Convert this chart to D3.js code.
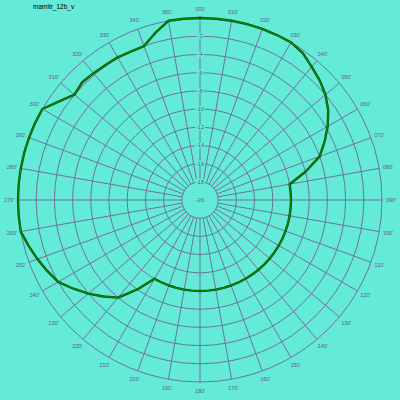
<!DOCTYPE html>
<html>
<head>
<meta charset="utf-8">
<script src="https://cdn.jsdelivr.net/npm/d3@7"></script>
<style>
  body { margin: 0; background: #64ebd8; }
  svg { display: block; }
</style>
</head>
<body>
<div id="chart"></div>
<script>
// pattern, every 5 degrees: azimuth (deg) -> level (dB)
const azimuths = [0, 5, 10, 15, 20, 25, 30, 35, 40, 45, 50, 55, 60, 65, 70, 75, 80, 85,
                  90, 95, 100, 105, 110, 115, 120, 125, 130, 135, 140, 145, 150, 155, 160, 165, 170, 175,
                  180, 185, 190, 195, 200, 205, 210, 215, 220, 225, 230, 235, 240, 245, 250, 255, 260, 265,
                  270, 275, 280, 285, 290, 295, 300, 305, 310, 315, 320, 325, 330, 335, 340, 345, 350, 355];
const levels = [0, 0, 0, 0, 0, 0, 0, -0.3, -0.9, -1.4, -2, -2.8, -3.8, -4.9, -6, -8, -10, -10,
                -10, -10, -10, -10, -10, -10, -10, -10, -10, -10, -10, -10, -10, -10, -10, -10, -10, -10,
                -10, -10, -10, -10, -10, -10, -10, -8, -6, -5, -4, -3, -2, -1.5, -1, -0.5, 0, 0,
                0, 0, 0, 0, 0, 0, 0, -1.1, -2, -1.7, -1.8, -1.9, -1.9, -2, -2, -1, 0, 0];

const ringValues = [-18, -16, -14, -12, -10, -8, -6, -4, -2, 0];
const ringLabels = ["-18", "-16", "-14", "-12", "-10", "-8", "-6", "-4", "-2", "0"];
const spokeAngles = d3.range(0, 360, 10);
const angleLabels = spokeAngles.map(a => a === 0 ? "000" : d3.format("03d")(a) + "'");
const title = "mamitr_12b_v";

const width = 400, height = 400;
const cx = 200, cy = 200, outer = 182;
const bg = "#64ebd8";

const svg = d3.select("#chart").append("svg")
    .attr("width", width)
    .attr("height", height);

svg.append("rect")
    .attr("width", width)
    .attr("height", height)
    .attr("fill", bg);

const g = svg.append("g")
    .attr("transform", "translate(" + cx + "," + cy + ")");

const rScale = d3.scaleLinear()
    .domain([-20, 0])
    .range([0, outer]);

const toRad = a => a * Math.PI / 180;
const gridColor = "#6e729c";
const textColor = "#5c5f84";

// rings
g.selectAll("circle.ring")
    .data(ringValues)
    .enter().append("circle")
    .attr("class", "ring")
    .attr("r", d => rScale(d))
    .attr("fill", "none")
    .attr("stroke", gridColor)
    .attr("stroke-width", 1);

// spokes, from the inner ring out to the rim
g.selectAll("line.spoke")
    .data(spokeAngles)
    .enter().append("line")
    .attr("class", "spoke")
    .attr("x1", d => rScale(-18) * Math.sin(toRad(d)))
    .attr("y1", d => -rScale(-18) * Math.cos(toRad(d)))
    .attr("x2", d => outer * Math.sin(toRad(d)))
    .attr("y2", d => -outer * Math.cos(toRad(d)))
    .attr("stroke", gridColor)
    .attr("stroke-width", 1);

// ring labels on the north spoke, with a small background box
const ringLab = g.selectAll("g.ringlab")
    .data(ringValues.map((v, i) => ({v: v, t: ringLabels[i]})).concat([{v: -20, t: "-20"}]))
    .enter().append("g")
    .attr("class", "ringlab")
    .attr("transform", d => "translate(0," + (-rScale(d.v)) + ")");

ringLab.append("text")
    .attr("text-anchor", "middle")
    .attr("dy", "0.35em")
    .attr("font-family", "Liberation Sans, Arial, sans-serif")
    .attr("font-size", "5.5px")
    .attr("fill", textColor)
    .text(d => d.t);

ringLab.each(function() {
    let grp = d3.select(this);
    let bb = grp.select("text").node().getBBox();
    grp.insert("rect", "text")
        .attr("x", bb.x - 1)
        .attr("y", bb.y)
        .attr("width", bb.width + 2)
        .attr("height", bb.height)
        .attr("fill", bg);
});

// azimuth labels
g.selectAll("text.az")
    .data(spokeAngles)
    .enter().append("text")
    .attr("class", "az")
    .attr("x", d => 191 * Math.sin(toRad(d)))
    .attr("y", d => -191 * Math.cos(toRad(d)))
    .attr("dy", "0.35em")
    .attr("text-anchor", "middle")
    .attr("font-family", "Liberation Sans, Arial, sans-serif")
    .attr("font-size", "5.5px")
    .attr("fill", textColor)
    .text((d, i) => angleLabels[i]);

// pattern
const pattern = azimuths.map((a, i) => [toRad(a), rScale(levels[i])]);
const radial = d3.lineRadial()
    .angle(d => d[0])
    .radius(d => d[1])
    .curve(d3.curveLinearClosed);

g.append("path")
    .datum(pattern)
    .attr("d", radial)
    .attr("fill", "none")
    .attr("stroke", "#005a00")
    .attr("stroke-width", 2.4)
    .attr("stroke-linejoin", "round");

g.append("path")
    .datum(pattern)
    .attr("d", radial)
    .attr("fill", "none")
    .attr("stroke", "#1c9a1c")
    .attr("stroke-width", 0.7)
    .attr("stroke-linejoin", "round");

svg.append("text")
    .attr("x", 33)
    .attr("y", 9)
    .attr("font-family", "Liberation Sans, Arial, sans-serif")
    .attr("font-size", "6.5px")
    .attr("fill", "#000")
    .text(title);
</script>
</body>
</html>
